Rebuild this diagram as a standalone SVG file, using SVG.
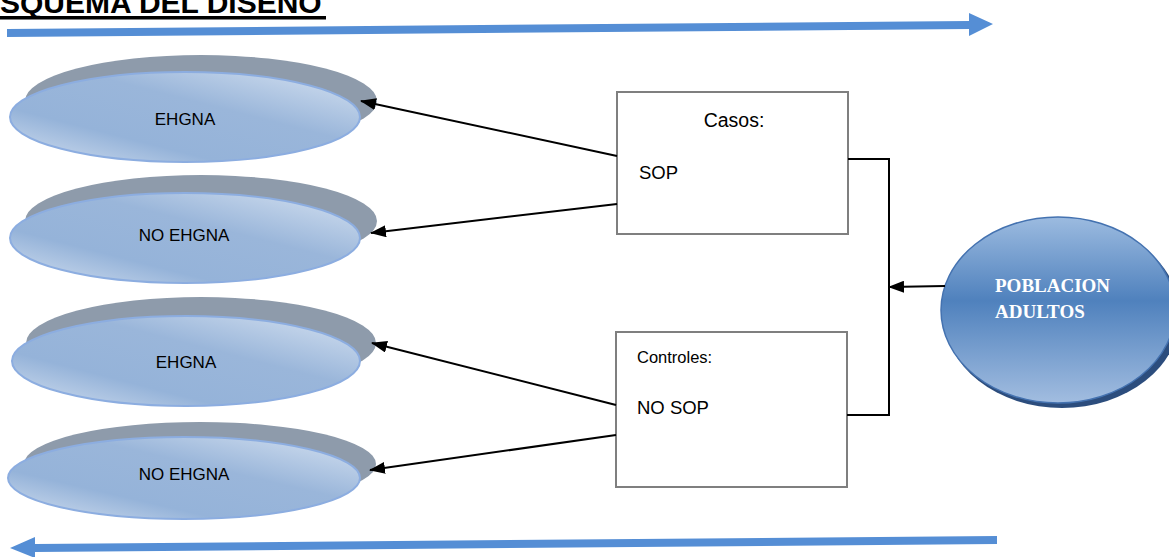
<svg xmlns="http://www.w3.org/2000/svg" width="1169" height="557" viewBox="0 0 1169 557">
<style>
.lbl{font-family:"Liberation Sans",Arial,sans-serif;font-size:17px;fill:#000}
.box{fill:#fff;stroke:#7f7f7f;stroke-width:2}
.front{fill:url(#gBlue);stroke:#8cade0;stroke-width:2}
.back{fill:#8e9bab}
.conn{stroke:#000;stroke-width:2;fill:none}
.big{fill:#558ed5}
</style>
<defs>
<linearGradient id="gBlue" x1="0" y1="1" x2="1" y2="0">
<stop offset="0" stop-color="#d4e0f0"/>
<stop offset="0.3" stop-color="#95b3d9"/>
<stop offset="0.6" stop-color="#9ab6da"/>
<stop offset="1" stop-color="#d6e2f1"/>
</linearGradient>
<linearGradient id="gPob" x1="0" y1="0" x2="0" y2="1">
<stop offset="0" stop-color="#9cbbe0"/>
<stop offset="0.45" stop-color="#4f81bd"/>
<stop offset="1" stop-color="#a2bde0"/>
</linearGradient>
<marker id="ah" markerWidth="16" markerHeight="12" refX="15" refY="6" orient="auto" markerUnits="userSpaceOnUse">
<path d="M0,0 L16,6 L0,12 z" fill="#000"/>
</marker>
</defs>

<g id="title">
<text x="0" y="13" style="font-family:'Liberation Sans',Arial,sans-serif;font-weight:bold;font-size:30px" fill="#000">SQUEMA DEL DISEÑO</text>
<rect x="0" y="16" width="326" height="3.5" fill="#000"/>
</g>

<g id="topArrow">
<path class="big" d="M7,29 L969,21 L969,13 L993,24 L969,36 L969,29 L7,37 z"/>
</g>
<g id="bottomArrow">
<path class="big" d="M997,536 L997,544 L35,552 L35,558 L10,548 L35,537 L35,544 z"/>
</g>

<g id="ell1">
<ellipse class="back" cx="201" cy="101" rx="176" ry="46"/>
<ellipse class="front" cx="185" cy="117" rx="175" ry="45"/>
<text class="lbl" x="185" y="125" text-anchor="middle">EHGNA</text>
</g>
<g id="ell2">
<ellipse class="back" cx="201" cy="221" rx="176" ry="46"/>
<ellipse class="front" cx="185" cy="238" rx="175" ry="45"/>
<text class="lbl" x="184" y="241" text-anchor="middle">NO EHGNA</text>
</g>
<g id="ell3">
<ellipse class="back" cx="201" cy="343" rx="175" ry="46"/>
<ellipse class="front" cx="186" cy="361" rx="174" ry="45"/>
<text class="lbl" x="186" y="368" text-anchor="middle">EHGNA</text>
</g>
<g id="ell4">
<ellipse class="back" cx="200" cy="464" rx="176" ry="42"/>
<ellipse class="front" cx="184" cy="478" rx="176" ry="41"/>
<text class="lbl" x="184" y="480" text-anchor="middle">NO EHGNA</text>
</g>

<g id="casos">
<rect class="box" x="617" y="92" width="231" height="142"/>
<text class="lbl" x="734" y="127" text-anchor="middle" style="font-size:19.5px">Casos:</text>
<text class="lbl" x="639" y="179" style="font-size:18.5px">SOP</text>
</g>
<g id="controles">
<rect class="box" x="616" y="332" width="231" height="155"/>
<text class="lbl" x="637" y="363" style="font-size:16.5px">Controles:</text>
<text class="lbl" x="637" y="414" style="font-size:18.5px">NO SOP</text>
</g>

<g id="poblacion">
<ellipse cx="1062" cy="315" rx="118" ry="93" fill="#2c4d7d"/>
<ellipse cx="1058" cy="310" rx="117" ry="93" fill="url(#gPob)" stroke="#4472b0" stroke-width="1.5"/>
<text x="995" y="292" fill="#fff" style="font-family:'Liberation Serif','Times New Roman',serif;font-weight:bold;font-size:19px">POBLACION</text>
<text x="995" y="318" fill="#fff" style="font-family:'Liberation Serif','Times New Roman',serif;font-weight:bold;font-size:19px">ADULTOS</text>
</g>

<g id="connectors">
<line class="conn" x1="617" y1="156" x2="361" y2="101" marker-end="url(#ah)"/>
<line class="conn" x1="617" y1="204" x2="371" y2="233" marker-end="url(#ah)"/>
<line class="conn" x1="616" y1="405" x2="372" y2="343" marker-end="url(#ah)"/>
<line class="conn" x1="616" y1="435" x2="370" y2="470" marker-end="url(#ah)"/>
<polyline class="conn" points="848,159 889,159 889,415 847,415"/>
<line class="conn" x1="945" y1="286" x2="889" y2="287" marker-end="url(#ah)"/>
</g>
</svg>
